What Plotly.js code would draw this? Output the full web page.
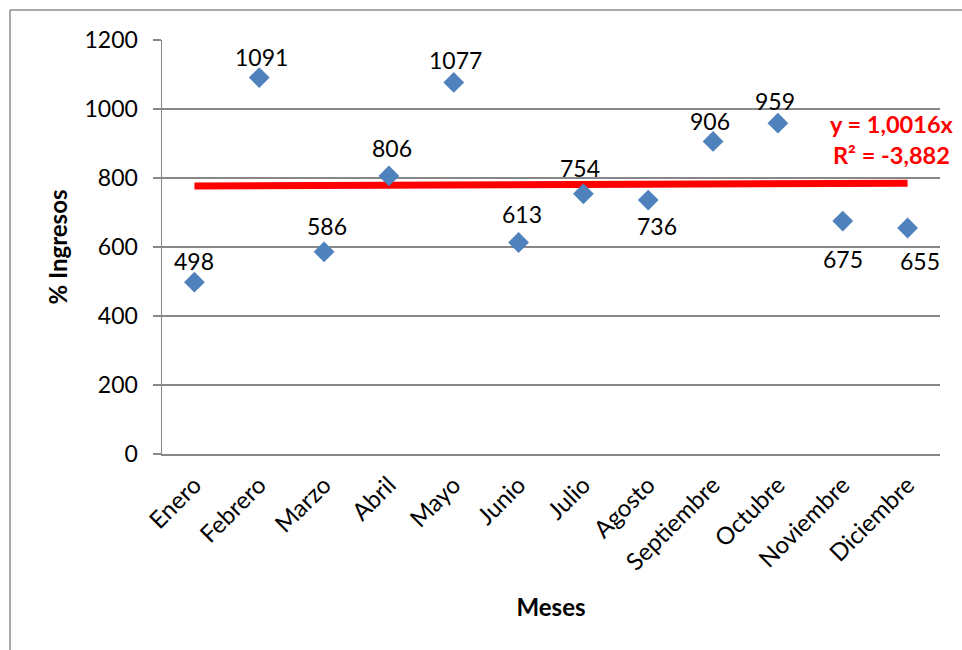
<!DOCTYPE html>
<html>
<head>
<meta charset="utf-8">
<script src="https://cdn.plot.ly/plotly-3.0.1.min.js"></script>
<style>
html,body{margin:0;padding:0;background:#fff;}
#chart{width:962px;height:650px;}
</style>
</head>
<body>
<div id="chart"></div>
<script>
const months = ["Enero","Febrero","Marzo","Abril","Mayo","Junio","Julio","Agosto","Septiembre","Octubre","Noviembre","Diciembre"];
const ingresos = [498,1091,586,806,1077,613,754,736,906,959,675,655];
const trendX = ["Enero","Diciembre"];
const trendY = [777,785];
const trendText = ["y = 1,0016x","R² = -3,882"];
const yTicks = [0,200,400,600,800,1000,1200];

// label placement offsets (pixels) relative to each marker, as placed in the original
const labelDX = [0,2,3,3,2,3,-3,9,-3,-3,0,12];
const labelDY = [21,21,26,28,22,29,26,-26,20,22,-38,-33];

const FONT = "Lato, 'Open Sans', sans-serif";
const W = 962, H = 650, ML = 162, MR = 22, MT = 40, MB = 196;
const pw = W - ML - MR, ph = H - MT - MB;
const px = v => (v - ML) / pw;
const py = v => (H - MB - v) / ph;

const traces = [
  {
    x: trendX, y: trendY, type: "scatter", mode: "lines",
    line: {color: "#FF0000", width: 7},
    hoverinfo: "skip", showlegend: false
  },
  {
    x: months, y: ingresos, type: "scatter", mode: "markers",
    marker: {symbol: "diamond", size: 16, color: "#4F81BD", line: {width: 0}},
    showlegend: false, cliponaxis: false
  }
];

const dataLabels = months.map((m, i) => ({
  x: m, y: ingresos[i], xref: "x", yref: "y",
  text: String(ingresos[i]), showarrow: false,
  xanchor: "center", yanchor: "middle",
  xshift: labelDX[i], yshift: labelDY[i],
  font: {family: FONT, size: 23, color: "#000"}
}));

const layout = {
  width: W, height: H,
  margin: {l: ML, r: MR, t: MT, b: MB},
  paper_bgcolor: "#fff", plot_bgcolor: "#fff",
  font: {family: FONT, color: "#000"},
  showlegend: false,
  xaxis: {
    type: "category", categoryorder: "array", categoryarray: months,
    range: [-0.5, 11.5],
    showgrid: false, zeroline: false,
    showline: true, linecolor: "#878787", linewidth: 1.5,
    ticks: "", tickangle: -45,
    ticklabelstandoff: 6,
    tickfont: {family: FONT, size: 24, color: "#000"},
    title: {text: "<b>Meses</b>", font: {family: FONT, size: 24, color: "#000"}, standoff: 24},
    automargin: false
  },
  yaxis: {
    range: [0, 1200], tickvals: yTicks,
    showgrid: true, gridcolor: "#878787", gridwidth: 1.3,
    zeroline: false,
    showline: true, linecolor: "#878787", linewidth: 1.5,
    ticks: "outside", ticklen: 8, tickcolor: "#878787", tickwidth: 1.3,
    ticklabelstandoff: 10,
    tickfont: {family: FONT, size: 23, color: "#000"},
    title: {text: "<b>% Ingresos</b>", font: {family: FONT, size: 24, color: "#000"}, standoff: 10},
    automargin: false
  },
  annotations: dataLabels.concat([
    {xref: "paper", yref: "paper", x: px(956), y: py(124), xanchor: "right", yanchor: "middle",
     text: "<b>" + trendText[0] + "</b>", showarrow: false, font: {family: FONT, size: 23.5, color: "#FF0000"}},
    {xref: "paper", yref: "paper", x: px(952), y: py(155), xanchor: "right", yanchor: "middle",
     text: "<b>" + trendText[1] + "</b>", showarrow: false, font: {family: FONT, size: 23.5, color: "#FF0000"}}
  ]),
  shapes: [
    {type: "line", xref: "paper", yref: "paper", x0: px(10), x1: px(10), y0: py(10), y1: py(660),
     line: {color: "#8C8C8C", width: 1.5}},
    {type: "line", xref: "paper", yref: "paper", x0: px(10), x1: px(970), y0: py(10), y1: py(10),
     line: {color: "#8C8C8C", width: 1.5}}
  ]
};

Plotly.newPlot("chart", traces, layout, {displayModeBar: false, staticPlot: true});
</script>
</body>
</html>
